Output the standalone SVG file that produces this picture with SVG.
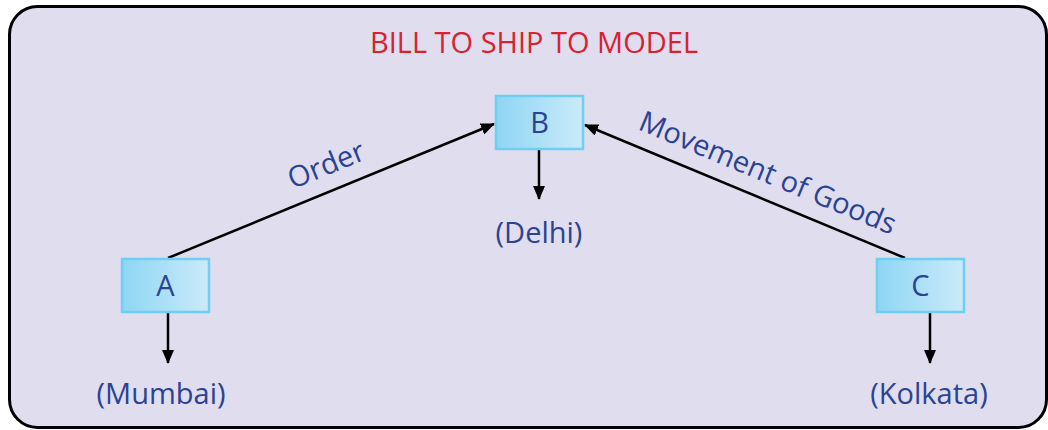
<svg xmlns="http://www.w3.org/2000/svg" width="1048" height="430" viewBox="0 0 1048 430">
<defs>
<linearGradient id="boxfill" x1="0" y1="0" x2="1" y2="0">
<stop offset="0" stop-color="#8ed6f4"/>
<stop offset="1" stop-color="#cbeafa"/>
</linearGradient>
<marker id="arr" viewBox="0 0 14 12" refX="13" refY="6" markerWidth="14" markerHeight="12" markerUnits="userSpaceOnUse" orient="auto">
<path d="M0,0 L14,6 L0,12 Z" fill="#000"/>
</marker>
<style>
.node rect{fill:url(#boxfill);stroke:#6ecff3;stroke-width:2.5}
.lbl{font-family:"Open Sans","DejaVu Sans",sans-serif;font-size:29px;fill:#2a4392;text-anchor:middle}
.conn line{stroke:#000;stroke-width:2.5;marker-end:url(#arr)}
</style>
</defs>
<rect x="9.5" y="6.5" width="1037" height="421" rx="28" fill="#e0ddef" stroke="#000" stroke-width="3"/>
<text x="534" y="53" class="lbl" style="fill:#d7232f">BILL TO SHIP TO MODEL</text>
<g id="connectors" class="conn">
<line x1="168" y1="258" x2="494" y2="124"/>
<line x1="905" y1="258" x2="585" y2="125"/>
<line x1="539" y1="150" x2="539" y2="199"/>
<line x1="168" y1="313" x2="168" y2="363"/>
<line x1="930" y1="313" x2="930" y2="363"/>
</g>
<g id="label-order"><text class="lbl" transform="translate(330,174) rotate(-22.3)">Order</text></g>
<g id="label-movement"><text class="lbl" transform="translate(764,182) rotate(22.6)">Movement of Goods</text></g>
<g id="node-B" class="node"><rect x="496" y="96" width="87" height="53"/><text x="539.5" y="133" class="lbl">B</text></g>
<g id="node-A" class="node"><rect x="122" y="259" width="87" height="53"/><text x="165.5" y="296" class="lbl">A</text></g>
<g id="node-C" class="node"><rect x="877" y="259" width="87" height="53"/><text x="920.5" y="296" class="lbl">C</text></g>
<g id="label-delhi"><text x="539" y="243" class="lbl">(Delhi)</text></g>
<g id="label-mumbai"><text x="161" y="404" class="lbl">(Mumbai)</text></g>
<g id="label-kolkata"><text x="929" y="404" class="lbl">(Kolkata)</text></g>
</svg>
